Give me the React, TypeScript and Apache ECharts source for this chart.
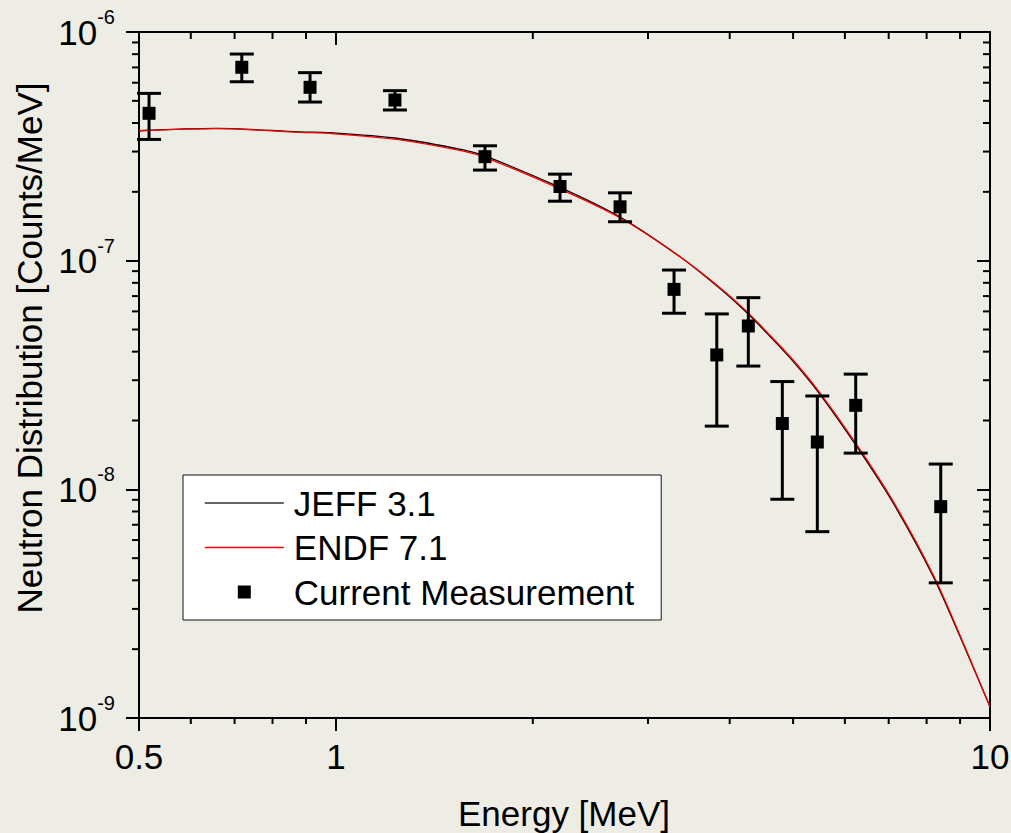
import React, { useEffect, useRef } from 'react';
import * as echarts from 'echarts';

const FONT = '"Liberation Sans", Arial, Helvetica, sans-serif';
const FS = 35;

// Measurement (Current Measurement)
const energy = [0.518, 0.718, 0.913, 1.231, 1.69, 2.201, 2.719, 3.288, 3.822, 4.271, 4.814, 5.445, 6.233, 8.408];
const counts = [4.41e-7, 7.01e-7, 5.73e-7, 5.04e-7, 2.85e-7, 2.11e-7, 1.72e-7, 7.49e-8, 3.87e-8, 5.18e-8, 1.94e-8, 1.61e-8, 2.33e-8, 8.4e-9];
const errLow = [3.39e-7, 6.06e-7, 4.94e-7, 4.56e-7, 2.49e-7, 1.82e-7, 1.48e-7, 5.89e-8, 1.89e-8, 3.46e-8, 9.05e-9, 6.53e-9, 1.44e-8, 3.9e-9];
const errHigh = [5.39e-7, 8.01e-7, 6.64e-7, 5.54e-7, 3.18e-7, 2.39e-7, 1.98e-7, 9.1e-8, 5.85e-8, 6.89e-8, 2.96e-8, 2.56e-8, 3.19e-8, 1.29e-8];

// Evaluated spectra
const curveEnergy = [0.5, 0.656, 0.881, 0.979, 1.238, 1.566, 1.701, 2.201, 2.719, 3.358, 3.866, 4.246, 4.61, 5.004, 5.464, 6.255, 7.115, 8.191, 8.999, 10];
const jeff = [3.7e-7, 3.79e-7, 3.66e-7, 3.63e-7, 3.43e-7, 3.05e-7, 2.85e-7, 2.09e-7, 1.55e-7, 1.04e-7, 7.55e-8, 5.93e-8, 4.66e-8, 3.62e-8, 2.66e-8, 1.54e-8, 8.69e-9, 4.15e-9, 2.27e-9, 1.12e-9];
const endf = [3.7e-7, 3.78e-7, 3.64e-7, 3.6e-7, 3.39e-7, 3.01e-7, 2.81e-7, 2.06e-7, 1.54e-7, 1.04e-7, 7.62e-8, 6.0e-8, 4.72e-8, 3.67e-8, 2.7e-8, 1.57e-8, 8.85e-9, 4.22e-9, 2.3e-9, 1.12e-9];

const seriesNames = ['JEFF 3.1', 'ENDF 7.1', 'Current Measurement'];
const seriesColors = ['#000000', '#ff0000', '#000000'];
const xTitle = 'Energy [MeV]';
const yTitle = 'Neutron Distribution [Counts/MeV]';

const xMin = 0.5;
const xMax = 10;
const yMin = 1e-9;
const yMax = 1e-6;
const xMinorTicks = [0.6, 0.7, 0.8, 0.9, 2, 3, 4, 5, 6, 7, 8, 9];
const yMinorTicks = [
  2e-9, 3e-9, 4e-9, 5e-9, 6e-9, 7e-9, 8e-9, 9e-9,
  2e-8, 3e-8, 4e-8, 5e-8, 6e-8, 7e-8, 8e-8, 9e-8,
  2e-7, 3e-7, 4e-7, 5e-7, 6e-7, 7e-7, 8e-7, 9e-7,
];

export default function App() {
  const ref = useRef<HTMLDivElement>(null);

  useEffect(() => {
    document.body.style.margin = '0';
    const chart = echarts.init(ref.current as HTMLDivElement, undefined, { renderer: 'svg' });

    const axisLine = { show: true, onZero: false, lineStyle: { color: '#000', width: 2 } };
    const tickStyle = { color: '#000', width: 2 };
    const tickLine = (x1: number, y1: number, x2: number, y2: number) => ({
      type: 'line',
      shape: { x1, y1, x2, y2 },
      style: { stroke: '#000', lineWidth: 2 },
    });

    const option: any = {
      animation: false,
      backgroundColor: '#eeede5',
      grid: { left: 139, top: 32, right: 21, bottom: 115, containLabel: false, outerBoundsMode: 'none' },
      xAxis: [
        {
          type: 'log', logBase: 10, min: xMin, max: xMax, position: 'bottom',
          axisLine,
          axisTick: { show: true, inside: false, length: 13, lineStyle: tickStyle },
          axisLabel: { color: '#000', fontSize: FS, fontFamily: FONT, margin: 21 },
          splitLine: { show: false },
          minorTick: { show: false },
        },
        {
          type: 'log', logBase: 10, min: xMin, max: xMax, position: 'top',
          axisLine,
          axisTick: { show: true, inside: true, length: 13, lineStyle: tickStyle },
          axisLabel: { show: false },
          splitLine: { show: false },
        },
      ],
      yAxis: [
        {
          type: 'log', logBase: 10, min: yMin, max: yMax, position: 'left',
          axisLine,
          axisTick: { show: true, inside: false, length: 13, lineStyle: tickStyle },
          axisLabel: {
            margin: 24,
            formatter: (v: number) => `{b|10}{s|${Math.round(Math.log10(v))}}`,
            rich: {
              b: { fontSize: FS, fontFamily: FONT, color: '#000', lineHeight: 50 },
              s: { fontSize: 20, fontFamily: FONT, color: '#000', lineHeight: 22, verticalAlign: 'top' },
            },
          },
          splitLine: { show: false },
        },
        {
          type: 'log', logBase: 10, min: yMin, max: yMax, position: 'right',
          axisLine,
          axisTick: { show: true, inside: true, length: 13, lineStyle: tickStyle },
          axisLabel: { show: false },
          splitLine: { show: false },
        },
      ],
      legend: {
        orient: 'vertical',
        left: 183,
        top: 475,
        data: [
          { name: seriesNames[0], itemStyle: { opacity: 0 }, lineStyle: { color: '#333333', width: 1.6, opacity: 1 } },
          { name: seriesNames[1], itemStyle: { opacity: 0 }, lineStyle: { color: seriesColors[1], width: 1.6, opacity: 1 } },
          { name: seriesNames[2], icon: 'path://M0,0H10V10H0Z', itemStyle: { color: seriesColors[2] } },
        ],
        symbolKeepAspect: true,
        backgroundColor: '#ffffff',
        borderColor: '#111',
        borderWidth: 1,
        borderRadius: 0,
        padding: [10.5, 27, 10.5, 21],
        itemWidth: 79,
        itemHeight: 13,
        itemGap: 9.5,
        selectedMode: false,
        textStyle: { fontSize: FS, color: '#000', fontFamily: FONT, padding: [0, 0, 0, 5] },
      },
      graphic: [
        {
          type: 'text', x: 564, y: 813,
          style: { text: xTitle, fontSize: FS, fontFamily: FONT, fill: '#000', align: 'center', verticalAlign: 'middle' },
        },
        {
          type: 'text', x: 29, y: 348, rotation: Math.PI / 2,
          style: { text: yTitle, fontSize: FS, fontFamily: FONT, fill: '#000', align: 'center', verticalAlign: 'middle' },
        },
      ],
      series: [
        {
          type: 'custom', silent: true, z: 4, clip: false,
          data: xMinorTicks.map((v) => [v, yMin]),
          encode: { x: 0, y: 1 },
          renderItem: (params: any, api: any) => {
            const cs = params.coordSys;
            const px = api.coord([api.value(0), yMin])[0];
            const bottom = cs.y + cs.height;
            const top = cs.y;
            return {
              type: 'group',
              children: [tickLine(px, bottom, px, bottom + 6), tickLine(px, top, px, top + 7)],
            };
          },
        },
        {
          type: 'custom', silent: true, z: 4, clip: false,
          data: yMinorTicks.map((v) => [xMin, v]),
          encode: { x: 0, y: 1 },
          renderItem: (params: any, api: any) => {
            const cs = params.coordSys;
            const py = api.coord([xMin, api.value(1)])[1];
            const left = cs.x;
            const right = cs.x + cs.width;
            return {
              type: 'group',
              children: [tickLine(left - 7, py, left, py), tickLine(right - 7, py, right, py)],
            };
          },
        },
        {
          name: seriesNames[0],
          type: 'line',
          data: curveEnergy.map((e, i) => [e, jeff[i]]),
          symbol: 'none',
          smooth: 0.3,
          lineStyle: { color: seriesColors[0], width: 1.3 },
          itemStyle: { color: seriesColors[0] },
          z: 2,
        },
        {
          name: seriesNames[1],
          type: 'line',
          data: curveEnergy.map((e, i) => [e, endf[i]]),
          symbol: 'none',
          smooth: 0.3,
          lineStyle: { color: seriesColors[1], width: 1.3 },
          itemStyle: { color: seriesColors[1] },
          z: 3,
        },
        {
          type: 'custom', silent: true, z: 5,
          data: energy.map((e, i) => [e, errLow[i], errHigh[i]]),
          encode: { x: 0, y: [1, 2] },
          renderItem: (params: any, api: any) => {
            const x = api.value(0);
            const lo = api.coord([x, api.value(1)]);
            const hi = api.coord([x, api.value(2)]);
            const hw = 12;
            const st = { stroke: '#000', lineWidth: 3, fill: 'none' };
            return {
              type: 'group',
              children: [
                { type: 'line', shape: { x1: lo[0], y1: lo[1], x2: hi[0], y2: hi[1] }, style: st },
                { type: 'line', shape: { x1: lo[0] - hw, y1: lo[1], x2: lo[0] + hw, y2: lo[1] }, style: st },
                { type: 'line', shape: { x1: hi[0] - hw, y1: hi[1], x2: hi[0] + hw, y2: hi[1] }, style: st },
              ],
            };
          },
        },
        {
          name: seriesNames[2],
          type: 'scatter',
          data: energy.map((e, i) => [e, counts[i]]),
          symbol: 'rect',
          symbolSize: 13,
          itemStyle: { color: seriesColors[2], opacity: 1 },
          z: 6,
        },
      ],
    };

    chart.setOption(option);
    return () => chart.dispose();
  }, []);

  return (
    <div
      ref={ref}
      style={{ position: 'absolute', left: 0, top: 0, width: 1011, height: 833 }}
    />
  );
}
